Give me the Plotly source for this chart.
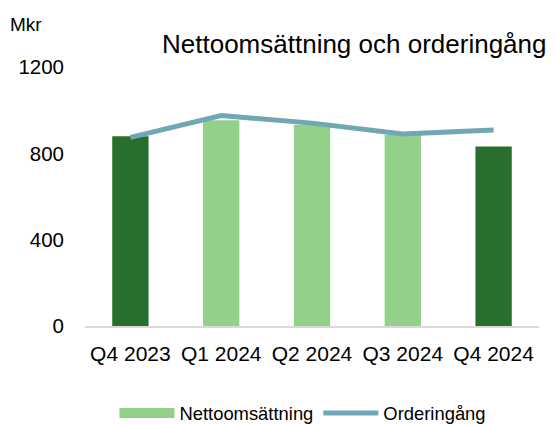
import plotly.graph_objects as go

categories = ["Q4 2023", "Q1 2024", "Q2 2024", "Q3 2024", "Q4 2024"]
netto = [879, 953, 933, 887, 832]
order = [874, 975, 940, 890, 908]
bar_colors = ["#286e2d", "#93d08a", "#93d08a", "#93d08a", "#286e2d"]
y_ticks = [0, 400, 800, 1200]

FONT = "Liberation Sans, Arial, sans-serif"
LIGHT = "#93d08a"
LINE = "#6fa8b4"

fig = go.Figure()
fig.add_trace(go.Bar(x=categories, y=netto, marker=dict(color=bar_colors, line=dict(width=0)),
                     name="Nettoomsättning", showlegend=False))
fig.add_trace(go.Scatter(x=[None], y=[None], mode="lines", name="Nettoomsättning",
                         line=dict(color=LIGHT, width=10)))
fig.add_trace(go.Scatter(x=categories, y=order, mode="lines", name="Orderingång",
                         line=dict(color=LINE, width=5)))

fig.update_layout(
    width=555, height=425,
    margin=dict(l=85, r=16, t=67, b=99),
    paper_bgcolor="white", plot_bgcolor="white",
    font=dict(family=FONT, color="#000000", size=20),
    bargap=0.6,
    showlegend=True,
    legend=dict(orientation="h", x=0.48, xanchor="center", xref="paper",
                y=12 / 425, yanchor="middle", yref="container",
                font=dict(size=18.4), itemwidth=55, traceorder="normal"),
    xaxis=dict(showgrid=False, showline=True, linecolor="#d9d9d9", linewidth=1.5,
               ticks="", tickfont=dict(size=21), ticklabelstandoff=8, automargin=False),
    yaxis=dict(range=[0, 1200], tickvals=y_ticks, showgrid=False, zeroline=False,
               showline=False, ticks="", tickfont=dict(size=20.5), ticklabelstandoff=20,
               automargin=False),
    annotations=[
        dict(text="Nettoomsättning och orderingång", x=0.5925, y=1.087, xref="paper", yref="paper",
             xanchor="center", yanchor="middle", showarrow=False, font=dict(size=26)),
        dict(text="Mkr", x=-0.17, y=1.165, xref="paper", yref="paper",
             xanchor="left", yanchor="middle", showarrow=False, font=dict(size=19)),
    ],
)

fig.write_html("out.html")
